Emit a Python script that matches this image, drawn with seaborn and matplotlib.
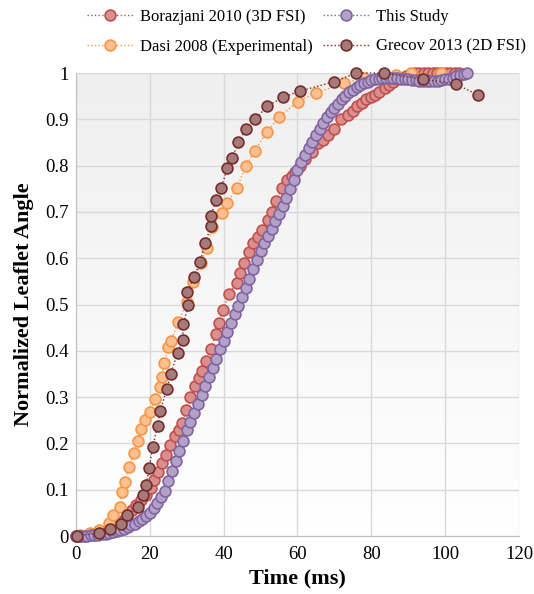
import numpy as np
import pandas as pd
import matplotlib
matplotlib.use("Agg")
import matplotlib.pyplot as plt
import seaborn as sns

# Borazjani 2010 (3D FSI)
boraz_x = [0, 1.2, 2.4, 3.6, 4.8, 6.0, 7.2, 8.4, 9.6, 10.8, 11.9, 12.9, 13.8, 15.2, 16.3, 17.6,
           19.0, 20.3, 21.1, 22.2, 23.3, 24.4, 25.6, 26.8, 27.8, 28.7, 29.9, 31.0, 32.2, 33.2,
           34.1, 35.2, 36.5, 37.9, 38.7, 39.8, 41.4, 43.5, 44.4, 45.5, 46.8, 48.0, 49.3, 50.4,
           52.0, 53.1, 54.2, 55.8, 57.2, 58.4, 59.3, 60.8, 62.0, 63.8, 65.6, 66.9, 68.3, 69.8,
           71.8, 73.7, 75.0, 76.2, 77.4, 78.6, 79.8, 81.0, 82.2, 83.7, 84.8, 85.9, 87.0, 88.2,
           89.4, 90.6, 91.8, 93.0, 94.2, 95.4, 96.6, 97.8, 99.0, 100.2, 101.4, 102.6, 103.8]
boraz_y = [0, 0, 0.001, 0.002, 0.003, 0.005, 0.007, 0.010, 0.014, 0.020, 0.028, 0.034, 0.041,
           0.056, 0.067, 0.078, 0.089, 0.104, 0.121, 0.138, 0.158, 0.175, 0.197, 0.216, 0.230,
           0.244, 0.272, 0.300, 0.324, 0.342, 0.356, 0.378, 0.405, 0.436, 0.461, 0.488, 0.522,
           0.546, 0.567, 0.590, 0.614, 0.632, 0.645, 0.661, 0.683, 0.700, 0.724, 0.752, 0.769,
           0.778, 0.786, 0.800, 0.815, 0.830, 0.848, 0.855, 0.866, 0.880, 0.900, 0.909, 0.918,
           0.929, 0.936, 0.944, 0.948, 0.952, 0.960, 0.968, 0.975, 0.981, 0.986, 0.990, 0.994,
           0.997, 0.999, 1.0, 1.0, 1.0, 1.0, 1.0, 1.0, 1.0, 1.0, 1.0, 1.0]

# Dasi 2008 (Experimental)
dasi_x = [1.1, 3.8, 6.2, 8.9, 10.0, 11.8, 12.4, 13.2, 14.3, 15.6, 16.9, 17.6, 18.8, 20.1, 21.3,
          22.8, 23.3, 23.9, 25.0, 25.7, 27.7, 30.1, 31.7, 33.9, 35.5, 36.9, 39.5, 40.9, 43.6,
          46.0, 48.4, 51.7, 55.1, 60.1, 64.9, 72.6, 78.0, 86.7, 90.7, 99.0]
dasi_y = [0.002, 0.006, 0.013, 0.028, 0.045, 0.063, 0.095, 0.117, 0.149, 0.179, 0.205, 0.231,
          0.250, 0.268, 0.295, 0.322, 0.344, 0.373, 0.408, 0.421, 0.462, 0.505, 0.549, 0.590,
          0.622, 0.667, 0.698, 0.719, 0.752, 0.799, 0.832, 0.873, 0.906, 0.938, 0.957, 0.978,
          0.989, 0.996, 1.0, 1.0]

# This Study
study_x = list(range(0, 107))
study_y = [0, 0, 0.001, 0.001, 0.002, 0.002, 0.003, 0.004, 0.005, 0.006,
           0.008, 0.010, 0.013, 0.016, 0.019, 0.023, 0.027, 0.032, 0.037, 0.043,
           0.050, 0.060, 0.071, 0.084, 0.098, 0.118, 0.140, 0.162, 0.184, 0.206,
           0.228, 0.247, 0.266, 0.285, 0.304, 0.323, 0.343, 0.363, 0.383, 0.403,
           0.422, 0.441, 0.460, 0.479, 0.497, 0.516, 0.535, 0.555, 0.576, 0.597,
           0.615, 0.632, 0.648, 0.664, 0.680, 0.696, 0.713, 0.731, 0.750, 0.768,
           0.790, 0.808, 0.823, 0.838, 0.852, 0.866, 0.879, 0.892, 0.904, 0.915,
           0.925, 0.934, 0.943, 0.951, 0.958, 0.964, 0.969, 0.974, 0.978, 0.981,
           0.984, 0.986, 0.988, 0.989, 0.990, 0.990, 0.990, 0.989, 0.988, 0.987,
           0.986, 0.985, 0.984, 0.983, 0.982, 0.982, 0.982, 0.982, 0.983, 0.984,
           0.986, 0.988, 0.990, 0.993, 0.995, 0.998, 1.0]

# Grecov 2013 (2D FSI)
grecov_x = [0.2, 6.2, 9.1, 12.3, 13.8, 16.8, 18.1, 19.0, 19.8, 20.8, 22.1, 22.8, 24.6, 25.7,
            27.5, 28.9, 29.1, 30.4, 30.1, 32.0, 33.6, 35.0, 36.6, 36.6, 37.9, 39.3, 41.0, 42.3,
            43.9, 46.1, 48.6, 51.7, 56.2, 60.7, 69.8, 75.9, 83.4, 93.9, 102.9, 109.0]
grecov_y = [0.0, 0.007, 0.015, 0.026, 0.045, 0.063, 0.089, 0.110, 0.147, 0.193, 0.238, 0.270,
            0.317, 0.351, 0.396, 0.423, 0.458, 0.499, 0.527, 0.559, 0.592, 0.633, 0.670, 0.691,
            0.726, 0.752, 0.794, 0.816, 0.850, 0.878, 0.900, 0.928, 0.948, 0.961, 0.981, 1.0,
            1.0, 0.987, 0.976, 0.952]

series = [
    ("Borazjani 2010 (3D FSI)", boraz_x, boraz_y, "#c0504d", "#d98f8d"),
    ("Dasi 2008 (Experimental)", dasi_x, dasi_y, "#f79646", "#fac090"),
    ("This Study", study_x, study_y, "#8064a2", "#b3a2c7"),
    ("Grecov 2013 (2D FSI)", grecov_x, grecov_y, "#772c2a", "#a47b7a"),
]

sns.set_style("white")
plt.rcParams["font.family"] = ["Liberation Serif", "DejaVu Serif"]

fig = plt.figure(figsize=(5.34, 5.94), dpi=100)
ax = fig.add_axes([0.1423, 0.0976, 0.8296, 0.7795])

# background gradient (white on top -> light gray at the bottom)
grad = np.linspace(1, 0, 256).reshape(-1, 1)
ax.imshow(grad, extent=[0, 1, 0, 1], transform=ax.transAxes, aspect="auto",
          cmap=matplotlib.colors.LinearSegmentedColormap.from_list("bg", ["#ffffff", "#efefef"]),
          vmin=0, vmax=1, zorder=0)

for name, xs, ys, edge, face in series:
    df = pd.DataFrame({"t": xs, "angle": ys})
    sns.lineplot(data=df, x="t", y="angle", ax=ax, estimator=None, sort=False,
                 color=edge, linestyle=":", linewidth=1.0, marker="o", markersize=7.8,
                 markerfacecolor=face, markeredgecolor=edge, markeredgewidth=1.2,
                 label=name, clip_on=False, zorder=3)

ax.set_xlim(0, 120)
ax.set_ylim(0, 1)
ax.set_xticks(range(0, 121, 20))
ax.set_yticks(np.arange(0, 1.01, 0.1))
ax.set_yticklabels(["0", "0.1", "0.2", "0.3", "0.4", "0.5", "0.6", "0.7", "0.8", "0.9", "1"])
ax.grid(True, color="#d9d9d9", linewidth=1.0, zorder=1)
ax.set_axisbelow(True)
for s in ["top", "right"]:
    ax.spines[s].set_visible(False)
for s in ["left", "bottom"]:
    ax.spines[s].set_color("#bfbfbf")
ax.tick_params(axis="both", labelsize=13.5, length=0, colors="black")
ax.tick_params(axis="x", pad=7)
ax.tick_params(axis="y", pad=5)

ax.set_xlabel("Time (ms)", fontsize=16, fontweight="bold", labelpad=4, color="black")
ax.set_ylabel("Normalized Leaflet Angle", fontsize=16, fontweight="bold", labelpad=8,
              color="black")

handles, labels = ax.get_legend_handles_labels()
leg = ax.legend(handles, labels, ncol=2, loc="lower center", bbox_to_anchor=(0.52, 1.025),
                frameon=False, fontsize=12, handlelength=2.8, columnspacing=0.6,
                handletextpad=0.4, labelspacing=0.85, borderaxespad=0)
for t in leg.get_texts():
    t.set_color("black")

fig.savefig("out.png", dpi=100)
